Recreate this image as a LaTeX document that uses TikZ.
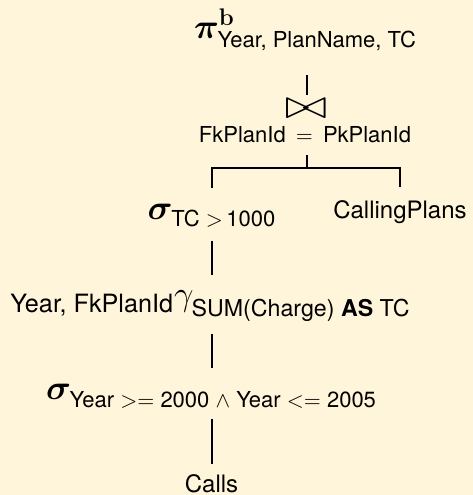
\documentclass[tikz,border=0pt]{standalone}
\usepackage{amsmath}
\usepackage{bm}
\usepackage[no-math]{fontspec}
\setmainfont{TeX Gyre Heros}
\usepackage{xcolor}

\definecolor{paper}{RGB}{255,245,218}
\newcommand{\opfont}{\fontsize{18}{20}\selectfont}
\newcommand{\subfont}{\fontsize{11}{13}\selectfont}
\newcommand{\relfont}{\fontsize{12}{14}\selectfont}
\newcommand{\lowsub}[2][1pt]{\mbox{\subfont\raisebox{-#1}{#2}}}

\begin{document}
\begin{tikzpicture}[x=0.5pt, y=-0.5pt,
  every node/.style={inner sep=0pt, anchor=base},
  edge/.style={line width=0.9pt}]

\fill[paper] (0,0) rectangle (473,495);

\node (proj) at (305.5,38) {\opfont$\bm{\pi}^{\mathbf{b}}_{\mbox{\subfont Year, PlanName, TC}}$};
\node[xscale=1.25] (join) at (306,118) {\fontsize{22}{24}\selectfont$\bowtie$};
\node (cond) at (305,142.7) {\subfont FkPlanId\hspace{2pt} $=$\hspace{2pt} PkPlanId};
\coordinate (fork) at (307,168);

\node (sel1) at (212,219) {\opfont$\bm{\sigma}_{\lowsub{TC $>$\,1000}}$};
\node (plans) at (400,218.3) {\relfont CallingPlans};
\node (agg) at (210.5,305) {\opfont${}_{\mbox{\fontsize{12.6}{14}\selectfont\raisebox{-1pt}{Year, FkPlanId}}}\gamma_{\mbox{\fontsize{11.6}{13}\selectfont\raisebox{-3pt}{SUM(Charge) \textbf{AS} TC}}}$};
\node (sel2) at (211.5,399) {\opfont$\bm{\sigma}_{\lowsub[1.8pt]{Year $>=$ 2000 $\wedge$ Year $<=$ 2005}}$};
\node (calls) at (211.5,492) {\relfont Calls};

\draw[edge, shorten <=12pt, shorten >=1.5pt] (proj.south -| fork) -- (join.north -| fork);
\draw[edge, shorten <=6pt] (cond.south -| fork) -- (fork);
\draw[edge, shorten <=7.75pt, shorten >=6.25pt] (sel1.north) |- (fork) -| (plans.north);
\draw[edge, shorten <=6.75pt, shorten >=7.25pt] (sel1.south) -- (sel1.south |- agg.north);
\draw[edge, shorten <=6pt, shorten >=7.75pt] (agg.south -| sel1) -- (sel2.north -| sel1);
\draw[edge, shorten <=4.75pt, shorten >=5pt] (sel2.south -| sel1) -- (calls.north -| sel1);

\end{tikzpicture}
\end{document}
